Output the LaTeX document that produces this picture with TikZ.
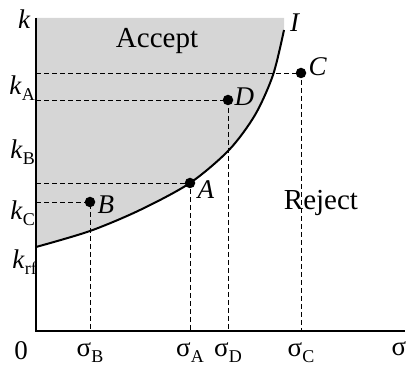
\documentclass[tikz,border=0pt]{standalone}
\usepackage{fontspec}
\setmainfont{Liberation Serif}
\usepackage{tikz}
\usetikzlibrary{positioning}
\definecolor{acceptgray}{HTML}{D6D6D6}
\newcommand{\idx}[1]{\raisebox{-0.5ex}{\fontsize{18}{18}\selectfont #1}}

\begin{document}
\begin{tikzpicture}[x=1pt, y=-1pt,
    every node/.style={font=\fontsize{27}{29}\selectfont, inner sep=1pt},
    axis/.style={line width=1.8pt},
    guide/.style={line width=0.9pt, dash pattern=on 5pt off 3pt},
    pt/.style={circle, fill=black, inner sep=0pt, minimum size=10.5pt},
    ptlabel/.style={font=\fontsize{27}{29}\selectfont\itshape},
    region/.style={font=\fontsize{29}{31}\selectfont}]
  \useasboundingbox (0,0) rectangle (408,369);
  \coordinate (O) at (36,331);
  \coordinate (top) at (36,18);
  \coordinate (end) at (405,331);
  \coordinate (Itop) at (284,30);
  \coordinate (A) at (190,183);
  \coordinate (B) at (90,202);
  \coordinate (C) at (301,73);
  \coordinate (D) at (228,100);
  % accept region left of the curve I
  \fill[acceptgray] (top) -- (284,18) -- plot[smooth] coordinates
    {(284,30) (273,75) (255,115) (229,150) (190,183) (140,210) (90,231) (36,247)} -- cycle;
  \draw[line width=2pt] plot[smooth] coordinates
    {(36,247) (90,231) (140,210) (190,183) (229,150) (255,115) (273,75) (284,30)};
  \foreach \p in {A,B,C,D} {
    \draw[guide] (\p -| O) -- (\p) -- (\p |- O);
    \coordinate (f\p) at (\p |- O);
  }
  \draw[axis] (top) -- (O) -- (end);
  \foreach \p in {A,B,C,D}
    \node[pt] (dot\p) at (\p) {};
  \node[ptlabel, right=1pt of dotA, yshift=-7pt] (lA) {A};
  \node[ptlabel, right=1pt of dotB, yshift=-3pt] (lB) {B};
  \node[ptlabel, right=1pt of dotC, yshift=6pt] (lC) {C};
  \node[ptlabel, right=0pt of dotD, yshift=3pt] (lD) {D};
  \node[ptlabel, above right=-3pt and 5pt of Itop] (I) {I};
  \node[region] (acc) at (157,41) {Accept};
  \node[region] (rej) at (321,203) {Reject};
  % axis labels
  \node[ptlabel] (k) at (24,19) {k};
  \node[anchor=east] (kA) at (36,88) {\textit{k}\idx{A}};
  \node[anchor=east] (kB) at (36,152) {\textit{k}\idx{B}};
  \node[anchor=east] (kC) at (36,213) {\textit{k}\idx{C}};
  \node[anchor=east] (krf) at (38,262) {\textit{k}\idx{rf}};
  \node (zero) at (21,351) {0};
  \node (sig) at (399,349) {σ};
  \foreach \p in {A,B,C,D}
    \node[below=10pt of f\p] (s\p) {σ\idx{\p}};
\end{tikzpicture}
\end{document}
